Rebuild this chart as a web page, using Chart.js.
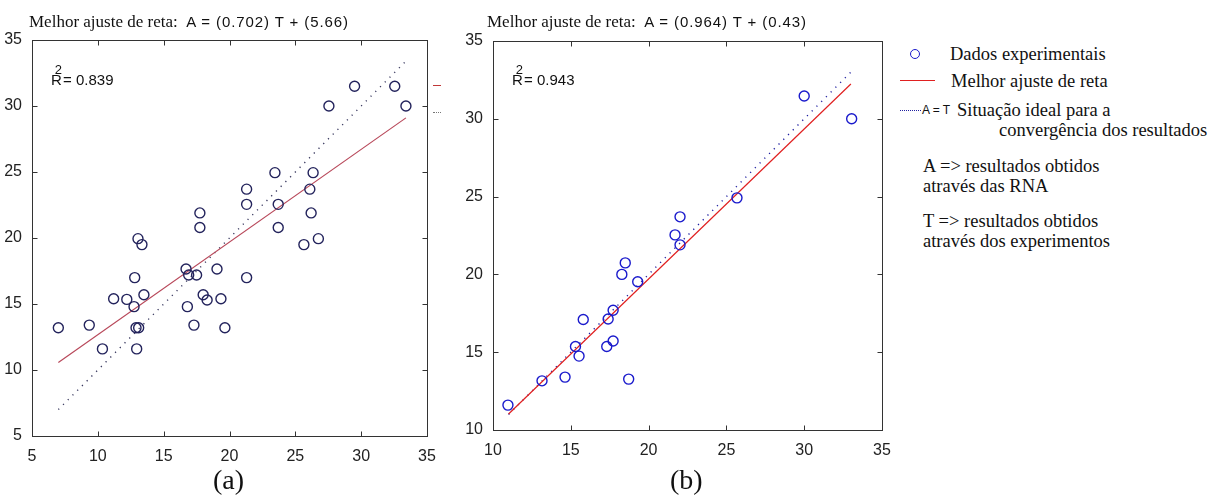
<!DOCTYPE html>
<html>
<head>
<meta charset="utf-8">
<script src="https://cdn.jsdelivr.net/npm/chart.js@4/dist/chart.umd.min.js"></script>
<style>
  html, body { margin:0; padding:0; background:#fff; }
  body { width:1213px; height:498px; position:relative; overflow:hidden; }
  .abs { position:absolute; white-space:nowrap; color:#111; }
  .serif { font-family:"Liberation Serif","Times New Roman",serif; }
  .sans { font-family:"Liberation Sans",Arial,sans-serif; }
  canvas { position:absolute; top:0; }
</style>
</head>
<body>
<canvas id="cA" width="440" height="470" style="left:0px"></canvas>
<canvas id="cB" width="440" height="470" style="left:460px"></canvas>

<!-- titles -->
<div class="abs" style="left:29px; top:12px; line-height:20px;"><span class="serif" style="font-size:17px">Melhor ajuste de reta</span><span class="serif" style="font-size:17px">:&nbsp; </span><span class="sans" style="font-size:15px; letter-spacing:0.9px">A = (0.702) T + (5.66)</span></div>
<div class="abs" style="left:487px; top:12px; line-height:20px;"><span class="serif" style="font-size:17px">Melhor ajuste de reta</span><span class="serif" style="font-size:17px">:&nbsp; </span><span class="sans" style="font-size:15px; letter-spacing:0.9px">A = (0.964) T + (0.43)</span></div>

<!-- R^2 -->
<div class="abs sans" style="left:51px; top:71px; font-size:15px; line-height:18px;">R<span style="position:relative; left:-7px; top:-11px; font-size:13px">2</span><span style="position:relative; left:-6px">= 0.839</span></div>
<div class="abs sans" style="left:512px; top:71px; font-size:15px; line-height:18px;">R<span style="position:relative; left:-7px; top:-11px; font-size:13px">2</span><span style="position:relative; left:-6px">= 0.943</span></div>

<!-- panel labels -->
<div class="abs serif" style="left:213px; top:464px; font-size:28px; line-height:32px;">(a)</div>
<div class="abs serif" style="left:670px; top:464px; font-size:28px; line-height:32px;">(b)</div>

<!-- stray legend remnants at right of (a) -->
<div class="abs" style="left:433px; top:85px; width:8px; border-top:1.3px solid #c03838;"></div>
<div class="abs" style="left:433px; top:112px; width:8px; border-top:1px dotted #777;"></div>

<!-- legend -->
<div class="abs" style="left:910px; top:49px; width:8px; height:8px; border:1.5px solid #1a1acc; border-radius:50%;"></div>
<div class="abs serif" style="left:950px; top:43px; font-size:18.5px; line-height:22px;">Dados experimentais</div>
<div class="abs" style="left:900px; top:80px; width:35px; border-top:1.3px solid #e02020;"></div>
<div class="abs serif" style="left:951px; top:70px; font-size:18.5px; line-height:22px;">Melhor ajuste de reta</div>
<div class="abs" style="left:900px; top:110px; width:21px; border-top:1.5px dotted #2020a0;"></div>
<div class="abs sans" style="left:922px; top:103px; font-size:12px; line-height:15px;">A = T</div>
<div class="abs serif" style="left:957px; top:99px; font-size:18.5px; line-height:22px;">Situação ideal para a</div>
<div class="abs serif" style="left:999px; top:119px; font-size:18.5px; line-height:22px;">convergência dos resultados</div>
<div class="abs serif" style="left:923px; top:155px; font-size:18.5px; line-height:22px;">A =&gt; resultados obtidos</div>
<div class="abs serif" style="left:923px; top:175px; font-size:18.5px; line-height:22px;">através das RNA</div>
<div class="abs serif" style="left:923px; top:210px; font-size:18.5px; line-height:22px;">T =&gt; resultados obtidos</div>
<div class="abs serif" style="left:923px; top:230px; font-size:18.5px; line-height:22px;">através dos experimentos</div>

<script>
// ---------- data ----------
// Panel (a): T = experimental, A = ANN
const tA = [7.0, 9.35, 10.35, 11.2, 12.2, 12.75, 12.8, 12.9, 13.1, 12.95, 13.05, 13.35, 13.5,
            16.7, 16.8, 16.9, 17.5, 17.3, 17.75, 17.75, 18.0, 18.3, 19.05, 19.35, 19.65,
            21.3, 21.3, 21.3, 23.45, 23.7, 23.7, 25.65, 26.1, 26.2, 26.35, 26.75, 27.55, 29.5, 32.55, 33.4];
const aA = [13.2, 13.4, 11.6, 15.4, 15.35, 14.8, 17.0, 13.2, 13.2, 11.6, 19.95, 19.5, 15.7,
            17.65, 14.8, 17.2, 17.2, 13.4, 21.9, 20.8, 15.7, 15.3, 17.65, 15.4, 13.2,
            23.7, 22.55, 17.0, 24.95, 22.55, 20.8, 19.5, 23.7, 21.9, 24.95, 19.95, 30.0, 31.5, 31.5, 30.0];
const fitA_T = [7.0, 33.4];
const fitA_A = [10.57, 29.1];
const idealA_T = [7.0, 33.4];
const idealA_A = [7.0, 33.4];
const ticksA_x = [5, 10, 15, 20, 25, 30, 35];
const ticksA_y = [5, 10, 15, 20, 25, 30, 35];

// Panel (b)
const tB = [10.96, 13.15, 14.63, 15.3, 15.53, 15.8, 17.31, 17.72, 17.4, 17.72, 18.72, 18.28, 18.5,
            19.3, 21.7, 22.02, 22.02, 25.68, 30.0, 33.05];
const aB = [11.6, 13.16, 13.4, 15.37, 14.75, 17.1, 15.37, 15.72, 17.13, 17.7, 13.27, 20.0, 20.74,
            19.53, 22.54, 23.7, 21.9, 24.92, 31.47, 30.0];
const fitB_T = [11.0, 33.0];
const fitB_A = [11.03, 32.24];
const idealB_T = [11.0, 33.0];
const idealB_A = [11.0, 33.0];
const ticksB_x = [10, 15, 20, 25, 30, 35];
const ticksB_y = [10, 15, 20, 25, 30, 35];

// ---------- helpers ----------
const pts = (xs, ys) => xs.map((x, i) => ({ x: x, y: ys[i] }));

const boxPlugin = {
  id: 'matlabBox',
  afterDraw(chart) {
    const { ctx, chartArea: ca, scales } = chart;
    ctx.save();
    ctx.strokeStyle = '#333';
    ctx.lineWidth = 1;
    const L = Math.round(ca.left) + 0.5, R = Math.round(ca.right) + 0.5;
    const T = Math.round(ca.top) + 0.5, B = Math.round(ca.bottom) + 0.5;
    ctx.strokeRect(L, T, R - L, B - T);
    const tl = 5;
    ctx.beginPath();
    scales.x.ticks.forEach(t => {
      const px = Math.round(scales.x.getPixelForValue(t.value)) + 0.5;
      ctx.moveTo(px, B); ctx.lineTo(px, B - tl);
      ctx.moveTo(px, T); ctx.lineTo(px, T + tl);
    });
    scales.y.ticks.forEach(t => {
      const py = Math.round(scales.y.getPixelForValue(t.value)) + 0.5;
      ctx.moveTo(L, py); ctx.lineTo(L + tl, py);
      ctx.moveTo(R, py); ctx.lineTo(R - tl, py);
    });
    ctx.stroke();
    ctx.restore();
  }
};

function makeChart(id, cfg) {
  const tickFont = { family: '"Liberation Sans", Arial, sans-serif', size: 16 };
  return new Chart(document.getElementById(id), {
    type: 'scatter',
    data: {
      datasets: [
        { label: 'Dados experimentais', data: pts(cfg.t, cfg.a), showLine: false,
          pointStyle: 'circle', pointRadius: 5, borderWidth: 1.4,
          borderColor: cfg.markerColor, backgroundColor: 'rgba(0,0,0,0)', order: 1 },
        { label: 'Melhor ajuste de reta', data: pts(cfg.fitT, cfg.fitA), showLine: true,
          pointRadius: 0, borderWidth: 1.2, borderColor: cfg.fitColor, order: 2 },
        { label: 'A = T', data: pts(cfg.idT, cfg.idA), showLine: true,
          pointRadius: 0, borderWidth: 1.4, borderDash: [1.2, 5.5], borderColor: cfg.idColor, order: 3 }
      ]
    },
    options: {
      responsive: false, animation: false, events: [],
      layout: { padding: cfg.padding },
      plugins: { legend: { display: false }, tooltip: { enabled: false } },
      scales: {
        x: { type: 'linear', min: cfg.xTicks[0], max: cfg.xTicks[cfg.xTicks.length - 1],
             afterBuildTicks: s => { s.ticks = cfg.xTicks.map(v => ({ value: v })); },
             afterFit: s => { s.height = cfg.xH; },
             grid: { display: false }, border: { display: false },
             ticks: { font: tickFont, color: '#222', padding: 3, maxRotation: 0, autoSkip: false } },
        y: { type: 'linear', min: cfg.yTicks[0], max: cfg.yTicks[cfg.yTicks.length - 1],
             afterBuildTicks: s => { s.ticks = cfg.yTicks.map(v => ({ value: v })); },
             afterFit: s => { s.width = cfg.yW; },
             grid: { display: false }, border: { display: false },
             ticks: { font: tickFont, color: '#222', padding: 2, autoSkip: false } }
      }
    },
    plugins: [boxPlugin]
  });
}

makeChart('cA', {
  t: tA, a: aA, fitT: fitA_T, fitA: fitA_A, idT: idealA_T, idA: idealA_A,
  xTicks: ticksA_x, yTicks: ticksA_y,
  markerColor: '#23235c', fitColor: '#b8485a', idColor: '#3a3a60',
  padding: { left: 0, right: 13, top: 40, bottom: 0 }, yW: 32, xH: 34
});
makeChart('cB', {
  t: tB, a: aB, fitT: fitB_T, fitA: fitB_A, idT: idealB_T, idA: idealB_A,
  xTicks: ticksB_x, yTicks: ticksB_y,
  markerColor: '#1a1acc', fitColor: '#e02020', idColor: '#2020a0',
  padding: { left: 0, right: 18, top: 41, bottom: 0 }, yW: 33, xH: 40
});
</script>
</body>
</html>
